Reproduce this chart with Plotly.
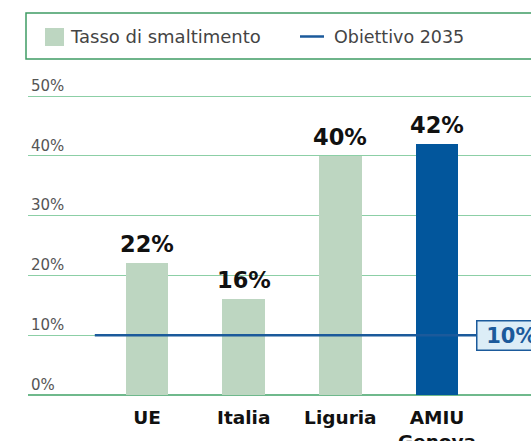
import plotly.graph_objects as go

# ---- data ----
categories = ["UE", "Italia", "Liguria", "AMIU<br>Genova"]
rates = [22, 16, 40, 42]
bar_colors = ["#bdd6c1", "#bdd6c1", "#bdd6c1", "#02569c"]
target_value = 10
target_label = "10%"
legend_labels = ["Tasso di smaltimento", "Obiettivo 2035"]
y_ticks = [0, 10, 20, 30, 40, 50]
y_ticktext = ["0%", "10%", "20%", "30%", "40%", "50%"]

W, H = 531, 441
ML, MR, MT, MB = 28, 0, 94, 46
PW, PH = W - ML - MR, H - MT - MB
Y_TOP = 50 * PH / 299.0

def px_x(px):
    return (px - ML) / PW

def px_y(py):
    return (H - MB - py) / PH

FONT = "DejaVu Sans"
GREEN_LINE = "#3f9c64"
BLUE = "#1b5a9b"
xpos = list(range(len(categories)))

fig = go.Figure()
fig.add_trace(go.Bar(
    x=xpos, y=rates, width=0.44,
    marker=dict(color=bar_colors, line=dict(width=0)),
    name=legend_labels[0], showlegend=False,
))
fig.add_trace(go.Scatter(
    x=[xpos[0] - 0.54, xpos[-1] + 0.5], y=[target_value, target_value],
    mode="lines", line=dict(color=BLUE, width=2.5),
    name=legend_labels[1], showlegend=False,
))

# value labels above bars
for xi, v in zip(xpos, rates):
    fig.add_annotation(
        x=xi, y=v, xref="x", yref="y", xanchor="center", yanchor="bottom",
        yshift=4, showarrow=False, text=f"<b>{v}%</b>",
        font=dict(family=FONT, size=22.5, color="#111111"),
    )

fig.add_annotation(
    x=xpos[-1] + 0.40, y=target_value, xref="x", yref="y",
    xanchor="left", yanchor="middle", showarrow=False,
    text="&nbsp;<b>" + target_label + "</b>&nbsp;&nbsp;&nbsp;&nbsp;",
    font=dict(family=FONT, size=21, color=BLUE),
    bgcolor="#dcedf7", bordercolor=BLUE, borderwidth=1.5, borderpad=2,
)

# legend (drawn as box)
fig.add_shape(type="rect", xref="paper", yref="paper",
              x0=px_x(26), x1=px_x(545), y0=px_y(59), y1=px_y(13),
              line=dict(color=GREEN_LINE, width=1.5), fillcolor="rgba(0,0,0,0)")
fig.add_shape(type="rect", xref="paper", yref="paper",
              x0=px_x(45), x1=px_x(64), y0=px_y(46), y1=px_y(28),
              line=dict(width=0), fillcolor=bar_colors[0])
fig.add_shape(type="line", xref="paper", yref="paper",
              x0=px_x(300), x1=px_x(324), y0=px_y(36.5), y1=px_y(36.5),
              line=dict(color=BLUE, width=2.5))
for lx, lab, fs in [(68, legend_labels[0], 18), (332, legend_labels[1], 17.5)]:
    fig.add_annotation(x=px_x(lx), y=px_y(37), xref="paper", yref="paper",
                       xanchor="left", yanchor="middle", showarrow=False,
                       text=lab, font=dict(family=FONT, size=fs, color="#444444"))

fig.update_layout(
    width=W, height=H,
    margin=dict(l=ML, r=MR, t=MT, b=MB, pad=0, autoexpand=False),
    paper_bgcolor="white", plot_bgcolor="white",
    font=dict(family=FONT),
    bargap=0,
    xaxis=dict(
        range=[-1.231, 3.972], tickmode="array", tickvals=xpos, ticktext=categories,
        tickfont=dict(family=FONT, size=18.5, color="#111111", weight="bold"),
        ticklabelstandoff=9, automargin=False,
        showgrid=False, zeroline=False, showline=False, ticks="",
        fixedrange=True,
    ),
    yaxis=dict(
        range=[0, Y_TOP], tickmode="array", tickvals=y_ticks, ticktext=y_ticktext,
        ticklabelposition="inside top", ticklabeloverflow="allow",
        tickfont=dict(family=FONT, size=15, color="#555555"),
        showgrid=True, gridcolor="#8ccfa6", gridwidth=1,
        zeroline=True, zerolinecolor="#6fb98c", zerolinewidth=1.5,
        showline=False, ticks="", automargin=False,
    ),
)

fig.write_html("out.html", config={"displayModeBar": False},
               post_script="document.body.style.margin='0';")
